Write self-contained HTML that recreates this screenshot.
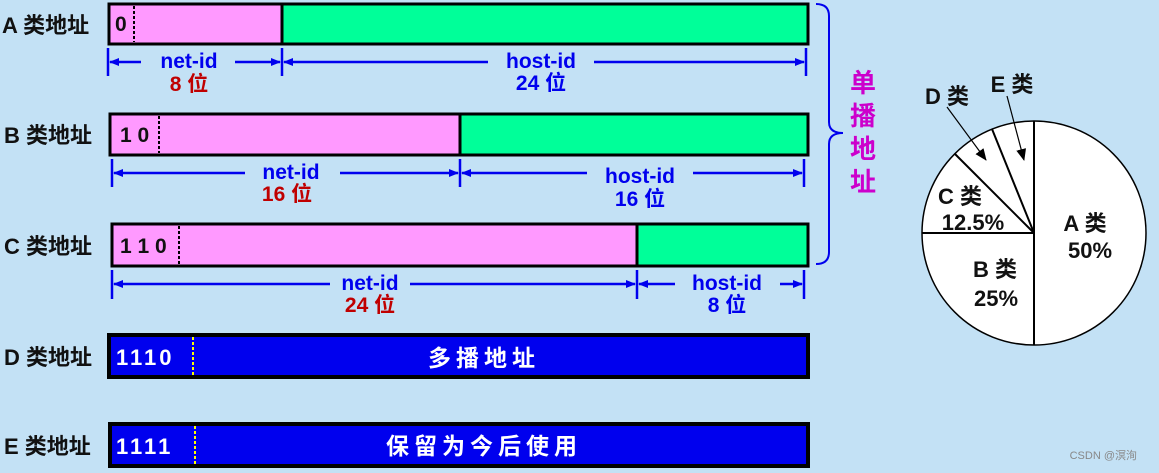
<!DOCTYPE html>
<html><head><meta charset="utf-8"><style>
html,body{margin:0;padding:0;background:#c3e1f5;}
svg{display:block;}
text{font-family:"Liberation Sans","Noto Sans CJK SC",sans-serif;font-weight:bold;}
</style></head><body>
<svg width="1159" height="473" viewBox="0 0 1159 473" xmlns="http://www.w3.org/2000/svg">
<defs>
<marker id="ah" markerWidth="10" markerHeight="8" refX="9" refY="4" orient="auto" markerUnits="userSpaceOnUse"><path d="M0,0 L10,4 L0,8 Z" fill="#0000ee"/></marker>
<marker id="bh" markerWidth="12" markerHeight="10" refX="11" refY="5" orient="auto" markerUnits="userSpaceOnUse"><path d="M0,0 L12,5 L0,10 Z" fill="#000"/></marker>
</defs>
<rect width="1159" height="473" fill="#c3e1f5"/>

<g font-size="22" fill="#111">
<text x="2" y="33">A 类地址</text>
<text x="4" y="143">B 类地址</text>
<text x="4" y="254">C 类地址</text>
<text x="4" y="365">D 类地址</text>
<text x="4" y="454">E 类地址</text>
</g>

<rect x="109" y="4" width="699" height="40" fill="#00ff99" stroke="#000" stroke-width="3"/>
<rect x="109" y="4" width="173" height="40" fill="#ff99ff" stroke="#000" stroke-width="3"/>
<line x1="134" y1="6" x2="134" y2="42" stroke="#000" stroke-width="2" stroke-dasharray="3,2"/>
<text x="115" y="31" font-size="21" fill="#111">0</text>
<rect x="110" y="114" width="698" height="41" fill="#00ff99" stroke="#000" stroke-width="3"/>
<rect x="110" y="114" width="350" height="41" fill="#ff99ff" stroke="#000" stroke-width="3"/>
<line x1="159" y1="116" x2="159" y2="153" stroke="#000" stroke-width="2" stroke-dasharray="3,2"/>
<text x="120" y="142" font-size="21" fill="#111">1 0</text>
<rect x="112" y="224" width="696" height="42" fill="#00ff99" stroke="#000" stroke-width="3"/>
<rect x="112" y="224" width="525" height="42" fill="#ff99ff" stroke="#000" stroke-width="3"/>
<line x1="179" y1="226" x2="179" y2="264" stroke="#000" stroke-width="2" stroke-dasharray="3,2"/>
<text x="120" y="253" font-size="21" fill="#111">1 1 0</text>
<rect x="109" y="335" width="699" height="42" fill="#0000ee" stroke="#000" stroke-width="4"/>
<line x1="193" y1="337" x2="193" y2="376" stroke="#ffff00" stroke-width="2" stroke-dasharray="3,2"/>
<text x="116" y="365" font-size="22" fill="#fff" letter-spacing="3">1110</text>
<text x="484" y="366" font-size="23" fill="#fff" text-anchor="middle" letter-spacing="5">多播地址</text>
<rect x="110" y="424" width="698" height="42" fill="#0000ee" stroke="#000" stroke-width="4"/>
<line x1="195" y1="426" x2="195" y2="465" stroke="#ffff00" stroke-width="2" stroke-dasharray="3,2"/>
<text x="116" y="454" font-size="22" fill="#fff" letter-spacing="3">1111</text>
<text x="484" y="454" font-size="23" fill="#fff" text-anchor="middle" letter-spacing="5">保留为今后使用</text>

<g stroke="#0000ee" stroke-width="2.5" fill="none">
<line x1="108" y1="48" x2="108" y2="76"/><line x1="282" y1="48" x2="282" y2="76"/><line x1="806" y1="48" x2="806" y2="76"/>
<line x1="141" y1="62" x2="110" y2="62" marker-end="url(#ah)"/>
<line x1="235" y1="62" x2="280" y2="62" marker-end="url(#ah)"/>
<line x1="488" y1="62" x2="284" y2="62" marker-end="url(#ah)"/>
<line x1="594" y1="62" x2="804" y2="62" marker-end="url(#ah)"/>
<line x1="112" y1="159" x2="112" y2="187"/><line x1="460" y1="159" x2="460" y2="187"/><line x1="804" y1="159" x2="804" y2="187"/>
<line x1="245" y1="173" x2="114" y2="173" marker-end="url(#ah)"/>
<line x1="340" y1="173" x2="458" y2="173" marker-end="url(#ah)"/>
<line x1="587" y1="173" x2="462" y2="173" marker-end="url(#ah)"/>
<line x1="693" y1="173" x2="802" y2="173" marker-end="url(#ah)"/>
<line x1="112" y1="270" x2="112" y2="299"/><line x1="637" y1="270" x2="637" y2="299"/><line x1="804" y1="270" x2="804" y2="299"/>
<line x1="330" y1="284" x2="114" y2="284" marker-end="url(#ah)"/>
<line x1="410" y1="284" x2="635" y2="284" marker-end="url(#ah)"/>
<line x1="675" y1="284" x2="639" y2="284" marker-end="url(#ah)"/>
<line x1="780" y1="284" x2="802" y2="284" marker-end="url(#ah)"/>
</g>
<g font-size="21" text-anchor="middle">
<text x="189" y="68" fill="#0000ee">net-id</text><text x="189" y="91" fill="#c00000">8 位</text>
<text x="541" y="68" fill="#0000ee">host-id</text><text x="541" y="90" fill="#0000ee">24 位</text>
<text x="291" y="179" fill="#0000ee">net-id</text><text x="287" y="201" fill="#c00000">16 位</text>
<text x="640" y="183" fill="#0000ee">host-id</text><text x="640" y="206" fill="#0000ee">16 位</text>
<text x="370" y="290" fill="#0000ee">net-id</text><text x="370" y="312" fill="#c00000">24 位</text>
<text x="727" y="290" fill="#0000ee">host-id</text><text x="727" y="312" fill="#0000ee">8 位</text>
</g>

<path d="M816,4 Q829,4 829,16 L829,122 Q829,133 843,133 Q829,133 829,144 L829,252 Q829,264 816,264" fill="none" stroke="#0000ee" stroke-width="2"/>
<g font-size="26" fill="#cc00cc" text-anchor="middle">
<text x="863" y="92">单</text><text x="863" y="125">播</text><text x="863" y="158">地</text><text x="863" y="191">址</text>
</g>

<circle cx="1034" cy="233" r="112" fill="#fff" stroke="#000" stroke-width="1.5"/>
<g stroke="#000" stroke-width="2">
<line x1="1034" y1="121" x2="1034" y2="345"/>
<line x1="922" y1="233" x2="1034" y2="233"/>
<line x1="955" y1="154" x2="1034" y2="233"/>
<line x1="992" y1="129" x2="1034" y2="233"/>
<line x1="947" y1="107" x2="986" y2="160" stroke-width="1.2" marker-end="url(#bh)"/>
<line x1="1007" y1="96" x2="1024" y2="160" stroke-width="1.2" marker-end="url(#bh)"/>
</g>
<g font-size="22" fill="#111" text-anchor="middle">
<text x="947" y="104">D 类</text>
<text x="1012" y="92">E 类</text>
<text x="960" y="204">C 类</text>
<text x="973" y="230">12.5%</text>
<text x="1085" y="231">A 类</text>
<text x="1090" y="258">50%</text>
<text x="995" y="277">B 类</text>
<text x="996" y="306">25%</text>
</g>
<text x="1137" y="459" font-size="11" fill="#888" text-anchor="end" style="font-weight:normal">CSDN @溟洵</text>
</svg>
</body></html>
